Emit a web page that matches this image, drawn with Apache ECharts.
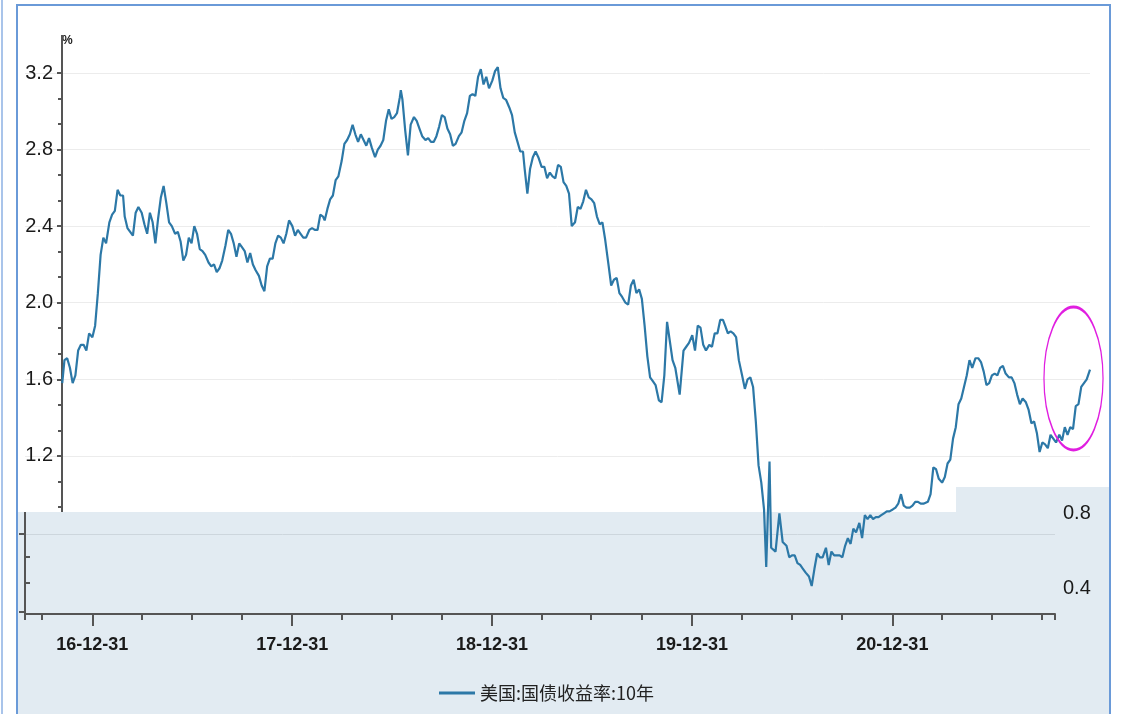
<!DOCTYPE html>
<html><head><meta charset="utf-8">
<script src="https://cdn.jsdelivr.net/npm/echarts@6.0.0/dist/echarts.min.js"></script>
<style>html,body{margin:0;padding:0;background:#fff}#c{width:1127px;height:714px}</style>
</head><body><div id="c"></div>
<script>
const seriesName = '美国:国债收益率:10年';
const dates = [
'2016-11-07','2016-11-11','2016-11-16','2016-11-21','2016-11-26',
'2016-12-01','2016-12-06','2016-12-11','2016-12-16','2016-12-21','2016-12-26',
'2017-01-01','2017-01-06','2017-01-11','2017-01-16','2017-01-21','2017-01-26',
'2017-02-01','2017-02-06','2017-02-11','2017-02-16','2017-02-21','2017-02-26',
'2017-03-01','2017-03-06','2017-03-11','2017-03-16','2017-03-21','2017-03-26',
'2017-04-01','2017-04-06','2017-04-11','2017-04-16','2017-04-21','2017-04-26',
'2017-05-01','2017-05-06','2017-05-11','2017-05-16','2017-05-21','2017-05-26',
'2017-06-01','2017-06-06','2017-06-11','2017-06-16','2017-06-21','2017-06-26',
'2017-07-01','2017-07-06','2017-07-11','2017-07-16','2017-07-21','2017-07-26',
'2017-08-01','2017-08-06','2017-08-11','2017-08-16','2017-08-21','2017-08-26',
'2017-09-01','2017-09-06','2017-09-11','2017-09-16','2017-09-21','2017-09-26',
'2017-10-01','2017-10-06','2017-10-11','2017-10-16','2017-10-21','2017-10-26',
'2017-11-01','2017-11-06','2017-11-11','2017-11-16','2017-11-21','2017-11-26',
'2017-12-01','2017-12-06','2017-12-11','2017-12-16','2017-12-21','2017-12-26',
'2018-01-01','2018-01-06','2018-01-11','2018-01-16','2018-01-21','2018-01-26',
'2018-02-01','2018-02-06','2018-02-11','2018-02-16','2018-02-21','2018-02-26',
'2018-03-01','2018-03-06','2018-03-11','2018-03-16','2018-03-21','2018-03-26',
'2018-04-01','2018-04-06','2018-04-11','2018-04-16','2018-04-21','2018-04-26',
'2018-05-01','2018-05-06','2018-05-11','2018-05-16','2018-05-21','2018-05-26',
'2018-06-01','2018-06-06','2018-06-11','2018-06-16','2018-06-21','2018-06-26',
'2018-07-01','2018-07-06','2018-07-11','2018-07-16','2018-07-18','2018-07-21','2018-07-26','2018-07-31',
'2018-08-05','2018-08-11','2018-08-16','2018-08-21','2018-08-26',
'2018-09-01','2018-09-06','2018-09-11','2018-09-16','2018-09-21','2018-09-26',
'2018-10-01','2018-10-06','2018-10-11','2018-10-16','2018-10-21','2018-10-26',
'2018-11-01','2018-11-06','2018-11-11','2018-11-16','2018-11-21','2018-11-26',
'2018-12-01','2018-12-06','2018-12-11','2018-12-16','2018-12-21','2018-12-26',
'2019-01-01','2019-01-06','2019-01-11','2019-01-16','2019-01-21','2019-01-26',
'2019-02-01','2019-02-06','2019-02-11','2019-02-16','2019-02-21','2019-02-26',
'2019-03-01','2019-03-06','2019-03-11','2019-03-16','2019-03-21','2019-03-26',
'2019-04-01','2019-04-06','2019-04-11','2019-04-16','2019-04-21','2019-04-26',
'2019-05-01','2019-05-06','2019-05-11','2019-05-16','2019-05-21','2019-05-26',
'2019-06-01','2019-06-06','2019-06-11','2019-06-16','2019-06-21','2019-06-26',
'2019-07-01','2019-07-06','2019-07-11','2019-07-16','2019-07-21','2019-07-26',
'2019-08-01','2019-08-06','2019-08-11','2019-08-16','2019-08-21','2019-08-26',
'2019-09-01','2019-09-06','2019-09-11','2019-09-16','2019-09-21','2019-09-26',
'2019-10-01','2019-10-06','2019-10-11','2019-10-16','2019-10-21','2019-10-26',
'2019-11-01','2019-11-06','2019-11-11','2019-11-16','2019-11-21','2019-11-26',
'2019-12-01','2019-12-09','2019-12-16','2019-12-21','2019-12-26',
'2020-01-01','2020-01-06','2020-01-11','2020-01-16','2020-01-21','2020-01-26',
'2020-02-01','2020-02-06','2020-02-11','2020-02-16','2020-02-21','2020-02-26',
'2020-03-01','2020-03-06','2020-03-11','2020-03-16','2020-03-21','2020-03-26',
'2020-04-01','2020-04-06','2020-04-11','2020-04-16','2020-04-21','2020-04-26',
'2020-05-01','2020-05-06','2020-05-11','2020-05-15','2020-05-21','2020-05-24',
'2020-06-01','2020-06-08','2020-06-14','2020-06-21','2020-06-26',
'2020-07-01','2020-07-06','2020-07-11','2020-07-16','2020-07-21','2020-07-26',
'2020-08-01','2020-08-06','2020-08-11','2020-08-16','2020-08-21','2020-08-26',
'2020-09-01','2020-09-06','2020-09-11','2020-09-16','2020-09-21','2020-09-26',
'2020-10-01','2020-10-06','2020-10-11','2020-10-16','2020-10-21','2020-10-26',
'2020-11-01','2020-11-06','2020-11-11','2020-11-16','2020-11-21','2020-11-26',
'2020-12-01','2020-12-06','2020-12-11','2020-12-16','2020-12-21','2020-12-26',
'2021-01-01','2021-01-06','2021-01-11','2021-01-16','2021-01-21','2021-01-26',
'2021-02-01','2021-02-06','2021-02-11','2021-02-16','2021-02-21','2021-02-26',
'2021-03-01','2021-03-06','2021-03-11','2021-03-16','2021-03-21','2021-03-26',
'2021-04-01','2021-04-06','2021-04-11','2021-04-16','2021-04-21','2021-04-26',
'2021-05-01','2021-05-06','2021-05-11','2021-05-16','2021-05-21','2021-05-26',
'2021-06-01','2021-06-06','2021-06-11','2021-06-16','2021-06-21','2021-06-26',
'2021-07-01','2021-07-06','2021-07-11','2021-07-16','2021-07-21','2021-07-26',
'2021-08-01','2021-08-06','2021-08-11','2021-08-16','2021-08-21','2021-08-26',
'2021-09-01','2021-09-06','2021-09-11','2021-09-16','2021-09-21','2021-09-26',
'2021-10-01','2021-10-06','2021-10-11','2021-10-16','2021-10-21','2021-10-26',
'2021-11-01','2021-11-06','2021-11-11','2021-11-16','2021-11-21','2021-11-26',
'2021-12-01','2021-12-06','2021-12-11','2021-12-16','2021-12-21','2021-12-27'
];
const yields = [
1.58,1.70,1.71,1.66,1.58,
1.62,1.75,1.78,1.78,1.75,1.84,
1.82,1.88,2.05,2.25,2.34,2.31,
2.42,2.46,2.48,2.59,2.56,2.56,
2.45,2.39,2.37,2.35,2.47,2.50,
2.47,2.41,2.36,2.47,2.42,2.31,
2.44,2.55,2.61,2.52,2.42,2.40,
2.36,2.37,2.32,2.22,2.25,2.34,
2.31,2.40,2.36,2.28,2.27,2.25,
2.21,2.19,2.20,2.16,2.18,2.22,
2.30,2.38,2.36,2.31,2.24,2.31,
2.29,2.27,2.21,2.26,2.20,2.17,
2.14,2.09,2.06,2.19,2.23,2.23,
2.31,2.35,2.34,2.31,2.36,2.43,
2.40,2.35,2.38,2.36,2.34,2.34,
2.38,2.39,2.38,2.38,2.46,2.45,
2.43,2.49,2.54,2.56,2.64,2.66,
2.74,2.83,2.85,2.88,2.93,2.88,
2.84,2.88,2.85,2.82,2.86,2.81,
2.76,2.80,2.82,2.85,2.95,3.01,
2.96,2.97,2.99,3.07,3.11,3.06,2.90,2.77,
2.93,2.97,2.95,2.91,2.87,
2.85,2.86,2.84,2.84,2.87,2.92,
2.98,2.97,2.91,2.88,2.82,2.83,
2.87,2.89,2.95,2.99,3.08,3.09,
3.08,3.18,3.22,3.14,3.18,3.12,
3.16,3.21,3.23,3.12,3.07,3.06,
3.02,2.98,2.89,2.84,2.79,2.79,
2.70,2.57,2.70,2.76,2.79,2.76,
2.71,2.71,2.65,2.68,2.66,2.65,
2.72,2.71,2.63,2.61,2.57,2.40,
2.42,2.50,2.49,2.53,2.59,2.55,
2.54,2.52,2.45,2.41,2.42,2.33,
2.20,2.09,2.12,2.13,2.05,2.03,
2.00,1.99,2.09,2.12,2.05,2.07,
2.02,1.88,1.72,1.61,1.59,1.57,
1.49,1.48,1.62,1.90,1.80,1.70,
1.66,1.52,1.75,1.77,1.79,
1.83,1.75,1.88,1.87,1.78,1.75,
1.78,1.77,1.84,1.84,1.91,1.91,
1.88,1.84,1.85,1.84,1.82,1.70,
1.62,1.55,1.60,1.61,1.56,1.38,
1.15,1.06,0.92,0.62,1.17,0.72,
0.70,0.90,0.75,0.73,0.67,
0.68,0.68,0.64,0.63,0.61,0.59,
0.57,0.52,0.61,0.69,0.67,0.67,
0.72,0.63,0.70,0.68,0.68,0.68,
0.67,0.73,0.77,0.74,0.82,0.80,
0.85,0.77,0.89,0.87,0.89,0.87,
0.88,0.88,0.89,0.90,0.91,0.91,
0.92,0.93,0.95,1.00,0.94,0.93,
0.93,0.94,0.96,0.96,0.95,0.95,
0.95,0.96,1.00,1.14,1.13,1.08,
1.06,1.09,1.16,1.18,1.29,1.35,
1.47,1.50,1.56,1.62,1.70,1.66,
1.71,1.71,1.69,1.64,1.57,1.58,
1.62,1.63,1.62,1.66,1.67,1.63,
1.61,1.61,1.58,1.52,1.47,1.50,
1.48,1.44,1.37,1.38,1.32,1.22,
1.27,1.26,1.24,1.31,1.29,1.27,
1.31,1.28,1.35,1.31,1.35,1.34,
1.46,1.47,1.56,1.58,1.60,1.65
];
const xLabelDates = ['2016-12-31','2017-12-31','2018-12-31','2019-12-31','2020-12-31'];
const xLabelTexts = ['16-12-31','17-12-31','18-12-31','19-12-31','20-12-31'];
const yMin = 0.4, yMax = 3.2, yStep = 0.4;
const sideLabels = ['0.8','0.4'];
const xStart = '2016-08-31', xAxisEnd = '2021-10-25', xDataEnd = '2021-12-27';

function pad(n){return (n<10?'0':'')+n;}
function ymd(d){return d.getFullYear()+'-'+pad(d.getMonth()+1)+'-'+pad(d.getDate());}

const chart = echarts.init(document.getElementById('c'));
const axisColor = '#555';
const panelColor = '#e2ebf2';
const lineColor = '#2c78a7';
const narrow = '"Liberation Sans Narrow","Liberation Sans",sans-serif';

const option = {
  backgroundColor: '#fff',
  animation: false,
  grid: [
    { left: 25, right: 37, top: 73, bottom: 105 },
    { left: 25, right: 72, top: 73, bottom: 105 }
  ],
  legend: {
    data: [{ name: seriesName, icon: 'rect' }],
    left: 434, top: 679,
    itemWidth: 36, itemHeight: 3,
    textStyle: { fontSize: 18, color: '#222', fontFamily: '"Noto Sans CJK SC",sans-serif' }
  },
  xAxis: [{
    type: 'time', gridIndex: 0, position: 'bottom',
    min: xStart, max: xDataEnd,
    axisLine: { show: false }, axisTick: { show: false }, axisLabel: { show: false }, splitLine: { show: false }
  }, {
    type: 'time', gridIndex: 1, position: 'bottom', offset: 5, z: 3,
    min: xStart, max: xAxisEnd,
    minInterval: 365 * 86400000, maxInterval: 366 * 86400000,
    axisLine: { lineStyle: { color: axisColor, width: 2 } },
    axisTick: { show: true, length: 12, lineStyle: { color: axisColor, width: 2 } },
    splitLine: { show: false },
    axisLabel: {
      margin: 22, fontSize: 18, fontWeight: 'bold', color: '#1a1a1a', fontFamily: narrow,
      hideOverlap: false,
      formatter: function (v) {
        const prev = ymd(new Date(v - 86400000));
        const i = xLabelDates.indexOf(prev);
        return i >= 0 ? xLabelTexts[i] : '';
      }
    }
  }, {
    type: 'time', gridIndex: 1, position: 'bottom', offset: 5, z: 3,
    min: xStart, max: xAxisEnd,
    minInterval: 89 * 86400000, maxInterval: 93 * 86400000,
    axisLine: { show: false },
    axisTick: { show: true, length: 6, lineStyle: { color: axisColor, width: 2 } },
    splitLine: { show: false },
    axisLabel: { show: false }
  }],
  yAxis: [{
    type: 'value', gridIndex: 0, position: 'left', offset: -37, z: 0,
    min: yMin, max: yMax, interval: yStep,
    name: '%', nameLocation: 'end', nameGap: 26,
    nameTextStyle: { fontSize: 12, fontWeight: 'bold', color: '#222', align: 'left' },
    axisLine: { show: true, lineStyle: { color: axisColor, width: 2 } },
    axisTick: { show: true, length: 5, lineStyle: { color: axisColor, width: 2 } },
    minorTick: { show: true, splitNumber: 3, length: 4, lineStyle: { color: axisColor, width: 2 } },
    splitLine: { show: true, lineStyle: { color: '#ececec', width: 1 } },
    axisLabel: { margin: 9, fontSize: 20, color: '#1a1a1a', fontFamily: narrow,
      formatter: function (v) { return v.toFixed(1); } }
  }, {
    type: 'value', gridIndex: 1, min: yMin, max: yMax, interval: yStep, show: false,
    splitLine: { show: false }
  }],
  series: [{
    name: seriesName, type: 'line', xAxisIndex: 0, yAxisIndex: 0,
    data: dates.map(function (d, i) { return [d, yields[i]]; }),
    showSymbol: false, symbol: 'none', clip: false,
    lineStyle: { color: lineColor, width: 2.2 }, itemStyle: { color: lineColor }
  }],
  graphic: [
    { type: 'rect', z: 1, silent: true, shape: { x: 18, y: 512, width: 1092, height: 202 }, style: { fill: panelColor } },
    { type: 'rect', z: 1, silent: true, shape: { x: 956, y: 487, width: 154, height: 26 }, style: { fill: panelColor } },
    { type: 'line', z: 1, silent: true, shape: { x1: 25, y1: 534.5, x2: 1055, y2: 534.5 }, style: { stroke: '#cdd6dd', lineWidth: 1 } },
    { type: 'line', z: 3, silent: true, shape: { x1: 25, y1: 512, x2: 25, y2: 615 }, style: { stroke: axisColor, lineWidth: 2 } },
    { type: 'line', z: 3, silent: true, shape: { x1: 19, y1: 534, x2: 25, y2: 534 }, style: { stroke: axisColor, lineWidth: 2 } },
    { type: 'line', z: 3, silent: true, shape: { x1: 25, y1: 557, x2: 30, y2: 557 }, style: { stroke: axisColor, lineWidth: 2 } },
    { type: 'line', z: 3, silent: true, shape: { x1: 25, y1: 583, x2: 30, y2: 583 }, style: { stroke: axisColor, lineWidth: 2 } },
    { type: 'line', z: 3, silent: true, shape: { x1: 19, y1: 612, x2: 25, y2: 612 }, style: { stroke: axisColor, lineWidth: 2 } },
    { type: 'line', z: 3, silent: true, shape: { x1: 62, y1: 35, x2: 62, y2: 74 }, style: { stroke: axisColor, lineWidth: 2 } },
    { type: 'text', z: 3, silent: true, x: 1063, y: 513, style: { text: sideLabels[0], fill: '#1a1a1a', font: '20px ' + narrow, verticalAlign: 'middle' } },
    { type: 'text', z: 3, silent: true, x: 1063, y: 588, style: { text: sideLabels[1], fill: '#1a1a1a', font: '20px ' + narrow, verticalAlign: 'middle' } },
    { type: 'rect', z: 5, silent: true, shape: { x: 1111, y: 0, width: 16, height: 714 }, style: { fill: '#fff' } },
    { type: 'rect', z: 6, silent: true, shape: { x: 17, y: 5, width: 1093, height: 720 }, style: { fill: 'none', stroke: '#6a9ad8', lineWidth: 2 } },
    { type: 'line', z: 6, silent: true, shape: { x1: 2, y1: 0, x2: 2, y2: 714 }, style: { stroke: '#a9c4ea', lineWidth: 2 } },
    { type: 'circle', z: 6, silent: true, x: 1073.5, y: 378.5, scaleX: 0.413, shape: { cx: 0, cy: 0, r: 71.5 },
      style: { fill: 'none', stroke: '#e01ee0', lineWidth: 3, strokeNoScale: true } }
  ]
};
chart.setOption(option);
</script></body></html>
